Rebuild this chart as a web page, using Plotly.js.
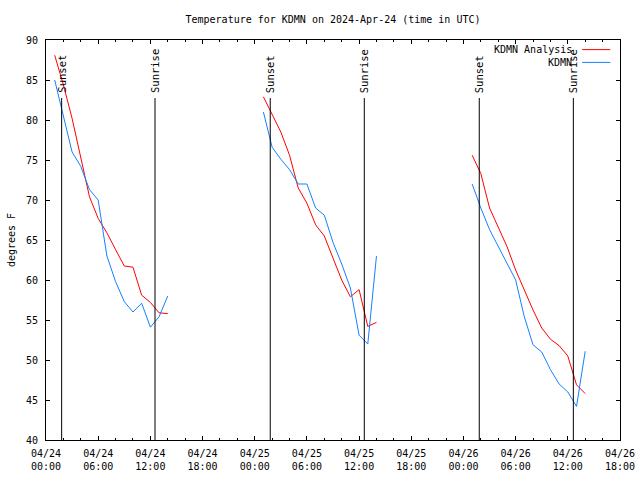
<!DOCTYPE html>
<html>
<head>
<meta charset="utf-8">
<script src="https://cdn.plot.ly/plotly-3.0.1.min.js"></script>
<style>
html,body{margin:0;padding:0;background:#fff;}
#chart{width:640px;height:480px;}
</style>
</head>
<body>
<div id="chart"></div>
<script>
// ---- data ----
const chartTitle = 'Temperature for KDMN on 2024-Apr-24 (time in UTC)';
const yTitle = 'degrees F';
const seriesNames = ['KDMN Analysis', 'KDMN'];
const seriesColors = ['#ff0000', '#1480ff'];
const days = ['2024-04-24', '2024-04-25', '2024-04-26'];
const hoursOfDay = ['01:00','02:00','03:00','04:00','05:00','06:00','07:00',
                    '08:00','09:00','10:00','11:00','12:00','13:00','14:00'];

const analysisDay1 = [88.1, 84.4, 80.2, 75.3, 70.4, 67.7, 65.9, 63.8, 61.75, 61.6, 58.1, 57.2, 55.9, 55.8];
const analysisDay2 = [82.9, 80.8, 78.5, 75.6, 71.5, 69.6, 66.9, 65.5, 62.7, 60.0, 57.9, 58.8, 54.2, 54.7];
const analysisDay3 = [75.6, 73.3, 69.0, 66.7, 64.2, 61.25, 58.7, 56.25, 54.0, 52.6, 51.8, 50.5, 46.9, 45.8];

const obsDay1 = [85.0, 80.6, 76.0, 74.2, 71.3, 70.0, 63.0, 59.8, 57.3, 56.0, 57.1, 54.1, 55.4, 58.0];
const obsDay2 = [81.0, 76.6, 75.1, 73.8, 72.0, 72.0, 69.0, 68.1, 64.7, 62.0, 59.0, 53.1, 52.0, 63.0];
const obsDay3 = [72.0, 69.0, 66.3, 64.2, 62.3, 60.0, 55.4, 51.9, 51.0, 48.8, 47.0, 46.0, 44.2, 51.1];

const sunsetTimes  = ['2024-04-24 01:48', '2024-04-25 01:47', '2024-04-26 01:49'];
const sunriseTimes = ['2024-04-24 12:32', '2024-04-25 12:36', '2024-04-26 12:38'];
const markerLabels = ['Sunset', 'Sunrise'];
const markerTopTemp = 82.75;

const xRange = ['2024-04-24 00:00', '2024-04-26 18:00'];
const yRange = [40, 90];

// ---- build traces ----
const analysisByDay = [analysisDay1, analysisDay2, analysisDay3];
const obsByDay = [obsDay1, obsDay2, obsDay3];
const traces = [];
days.forEach((d, i) => {
  const t = hoursOfDay.map(h => d + ' ' + h);
  traces.push({x: t, y: analysisByDay[i], type: 'scatter', mode: 'lines', name: seriesNames[0],
               showlegend: false, line: {color: seriesColors[0], width: 1}});
  traces.push({x: t, y: obsByDay[i], type: 'scatter', mode: 'lines', name: seriesNames[1],
               showlegend: false, line: {color: seriesColors[1], width: 1}});
});

const FONT = '"DejaVu Sans Mono", "Liberation Mono", monospace';
const shapes = [];
const annotations = [];
[[sunsetTimes, markerLabels[0]], [sunriseTimes, markerLabels[1]]].forEach(([times, label]) => {
  times.forEach(t => {
    shapes.push({type: 'line', xref: 'x', yref: 'y', x0: t, x1: t, y0: yRange[0], y1: markerTopTemp,
                 line: {color: '#000', width: 1}});
    annotations.push({x: t, y: markerTopTemp, xref: 'x', yref: 'y', text: label, showarrow: false,
                      textangle: -90, xanchor: 'center', yanchor: 'bottom', yshift: 3,
                      font: {family: FONT, size: 10.5, color: '#000'}});
  });
});

// legend drawn at top-right inside the plot (text right-aligned, sample to its right)
const legendY = [0.976, 0.944];
seriesNames.forEach((n, i) => {
  annotations.push({x: 0.92, y: legendY[i], xref: 'paper', yref: 'paper', text: n, showarrow: false,
                    xanchor: 'right', yanchor: 'middle', font: {family: FONT, size: 10, color: '#000'}});
  shapes.push({type: 'line', xref: 'paper', yref: 'paper', x0: 0.934, x1: 0.983, y0: legendY[i], y1: legendY[i],
               line: {color: seriesColors[i], width: 1}});
});

const layout = {
  width: 640, height: 480,
  margin: {l: 46, r: 20, t: 40, b: 40, pad: 0},
  paper_bgcolor: '#fff', plot_bgcolor: '#fff',
  font: {family: FONT, size: 10, color: '#000'},
  showlegend: false,
  title: {text: chartTitle, x: 0.5, xref: 'paper', y: 1 - 19/480, yref: 'container',
          xanchor: 'center', yanchor: 'middle', font: {family: FONT, size: 10, color: '#000'}},
  xaxis: {
    type: 'date', range: xRange, tick0: '2024-04-24 00:00', dtick: 6*3600*1000,
    tickformat: '%m/%d<br>%H:%M', ticks: 'inside', ticklen: 4, tickcolor: '#000', tickwidth: 1,
    minor: {dtick: 2*3600*1000, ticks: 'inside', ticklen: 2, tickcolor: '#000', tickwidth: 1, showgrid: false},
    showline: true, linecolor: '#000', linewidth: 1, mirror: 'ticks',
    showgrid: false, zeroline: false, ticklabelstandoff: 4,
    tickfont: {family: FONT, size: 10, color: '#000'}
  },
  yaxis: {
    range: yRange, dtick: 5, tick0: 40, ticks: 'inside', ticklen: 4, tickcolor: '#000', tickwidth: 1,
    showline: true, linecolor: '#000', linewidth: 1, mirror: 'ticks',
    showgrid: false, zeroline: false, ticklabelstandoff: 5,
    tickfont: {family: FONT, size: 10, color: '#000'},
    title: {text: yTitle, font: {family: FONT, size: 10, color: '#000'}, standoff: 8}
  },
  shapes: shapes,
  annotations: annotations
};

Plotly.newPlot('chart', traces, layout, {displayModeBar: false, staticPlot: true});
</script>
</body>
</html>
